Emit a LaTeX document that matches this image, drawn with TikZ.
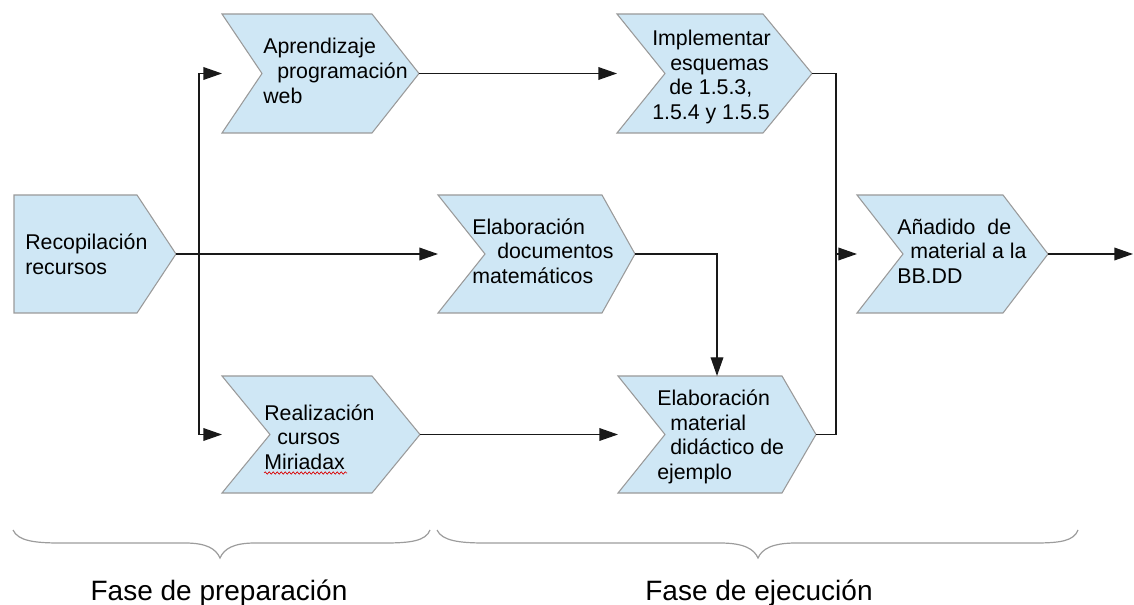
\documentclass[tikz,border=0pt]{standalone}
\usepackage{fontspec}
\setmainfont{Liberation Sans}
\usetikzlibrary{arrows.meta,calc,decorations.pathmorphing}
\definecolor{chevfill}{HTML}{CFE7F5}
\definecolor{chevline}{HTML}{9A9A9A}
\definecolor{bracegray}{HTML}{9C9C9C}
\newcommand\drawchev[3]{\path[chevshape] (#1.north west) -- ($(#1.north east)+(-#3,0)$) -- (#1.east) -- ($(#1.south east)+(-#3,0)$) -- (#1.south west) -- ($(#1.west)+(#2,0)$) -- cycle;}
\begin{document}
\begin{tikzpicture}[x=0.75pt,y=-0.75pt,
  chev/.style={rectangle,inner sep=0pt,outer sep=0pt},
  chevshape/.style={fill=chevfill,draw=chevline,line width=0.8pt,line join=miter},
  boxtext/.style={inner sep=0pt,align=left,font=\fontsize{16}{18.5}\selectfont,anchor=west},
  conn/.style={line width=1pt,draw=black!90},
  arr/.style={conn,-{Triangle[length=14pt,width=9.5pt]}},
  phase/.style={inner sep=0pt,font=\fontsize{21}{25}\selectfont,anchor=base},
  bracepath/.style={draw=bracegray,line width=0.9pt}]
\useasboundingbox (0,0) rectangle (1134,605);

% chevron frames
\node[chev,minimum width=121.5pt,minimum height=88.5pt] (rec) at (95,254) {};
\node[chev,minimum width=147.75pt,minimum height=89.25pt] (apr) at (320.5,73.5) {};
\node[chev,minimum width=146.25pt,minimum height=89.25pt] (imp) at (714.5,73.5) {};
\node[chev,minimum width=147.75pt,minimum height=88.5pt] (doc) at (536.5,254) {};
\node[chev,minimum width=143.25pt,minimum height=88.5pt] (ana) at (952.5,254) {};
\node[chev,minimum width=148.5pt,minimum height=87.75pt] (rea) at (321,434.5) {};
\node[chev,minimum width=148.5pt,minimum height=87.75pt] (mat) at (717,434.5) {};

\drawchev{rec}{0}{39}
\drawchev{apr}{40}{47}
\drawchev{imp}{48}{49}
\drawchev{doc}{47}{33}
\drawchev{ana}{46}{45}
\drawchev{rea}{48}{48}
\drawchev{mat}{47}{34}

% texts
\node[boxtext] (rec-t) at (25,254.5) {Recopilación\\recursos};
\node[boxtext] (apr-t) at (263,71) {Aprendizaje\\\hspace*{10.5pt}programación\\web};
\node[boxtext] (imp-t) at (652,77) {Implementar\\\hspace*{13.5pt}esquemas\\\hspace*{12.75pt}de 1.5.3,\\1.5.4 y 1.5.5};
\node[boxtext] (doc-t) at (472,251) {Elaboración\\\hspace*{18.75pt}documentos\\matemáticos};
\node[boxtext] (rea-t) at (264,437) {Realización\\\hspace*{9.75pt}cursos\\Miriadax};
\node[boxtext] (mat-t) at (657,437) {Elaboración\\\hspace*{9.75pt}material\\\hspace*{9.75pt}didáctico de\\ejemplo};
\node[boxtext] (ana-t) at (897,251) {Añadido\ \ de\\\hspace*{9.75pt}material a la\\BB.DD};

\draw[red!85!black,line width=0.5pt,decorate,decoration={snake,amplitude=0.9pt,segment length=3pt}] (264,473) -- (347,473);

% connectors
\coordinate (split) at ($(rec.east)+(23,0)$);
\draw[arr] (rec.east) -- (doc.west);
\draw[arr] (split) |- (apr.west);
\draw[arr] (split) |- (rea.west);
\draw[arr] (apr.east) -- (imp.west);
\draw[arr] (rea.east) -- (mat.west);
\draw[arr] (doc.east) -| (mat.north);
\coordinate (join) at (836,254);
\draw[conn] (imp.east) -| (join);
\draw[conn] (mat.east) -| (join);
\draw[arr] (join) -- (ana.west);
\coordinate (out) at (1133,254);
\draw[arr] (ana.east) -- (out);

% braces
\draw[bracepath] (13,530) .. controls (18,541) and (35,543) .. (60,543) -- (185,543) .. controls (207,543) and (216,549) .. (220,558) .. controls (224,549) and (233,543) .. (255,543) -- (385,543) .. controls (410,543) and (426,541) .. (430,530);
\draw[bracepath] (437,530) .. controls (442,541) and (460,543) .. (485,543) -- (720,543) .. controls (744,543) and (754,549) .. (758,558) .. controls (762,549) and (772,543) .. (796,543) -- (1035,543) .. controls (1060,543) and (1074,541) .. (1078,530);

% phase labels
\node[phase] (prep) at (219,600) {Fase de preparación};
\node[phase] (ejec) at (759,600) {Fase de ejecución};
\end{tikzpicture}
\end{document}
